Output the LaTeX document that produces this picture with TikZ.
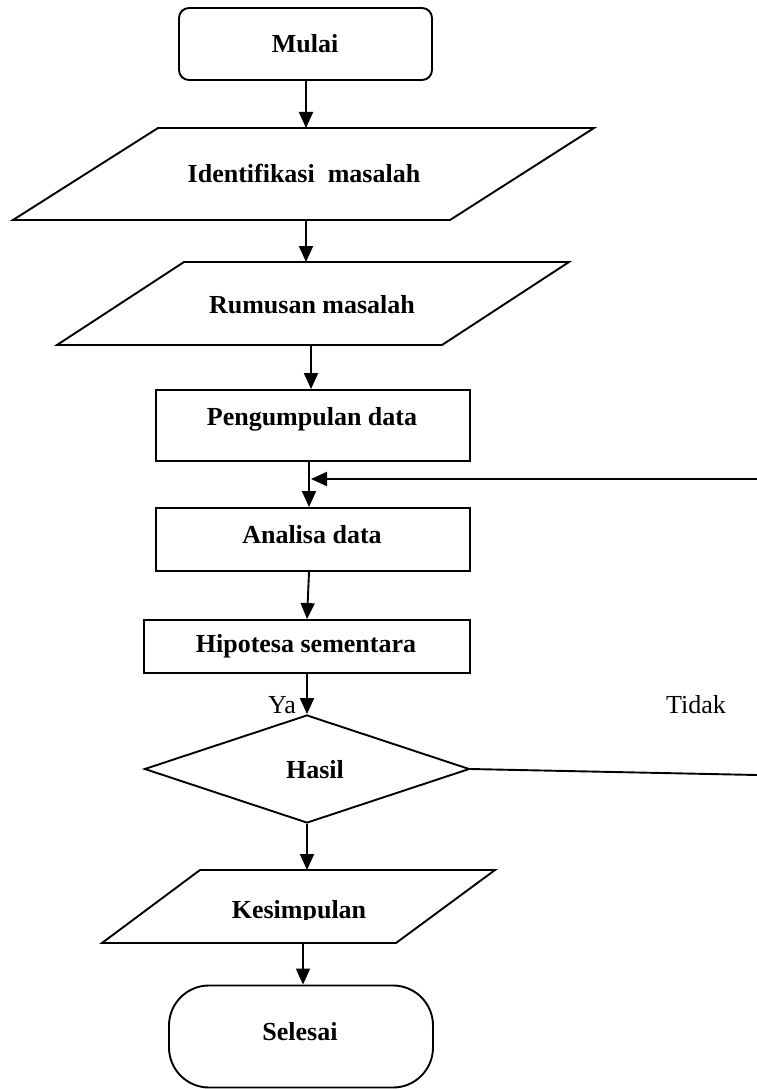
\documentclass[tikz,border=0pt]{standalone}
\usepackage{fontspec}
\setmainfont{Liberation Serif}
\usetikzlibrary{arrows.meta,shapes.geometric}
\begin{document}
\begin{tikzpicture}[x=1pt,y=-1pt, line width=1.9pt,
  shp/.style={draw, line width=1.9pt, inner sep=0pt},
  lbl/.style={font=\bfseries\fontsize{26}{30}\selectfont, anchor=base, inner sep=0pt},
  plainlbl/.style={font=\fontsize{26}{30}\selectfont, anchor=base, inner sep=0pt},
  arr/.style={-{Triangle[length=16pt,width=14pt]}, line width=1.9pt}]
\useasboundingbox (0,0) rectangle (757,1089);
\fill[white] (0,0) rectangle (757,1089);

% terminals and boxes
\node[shp, rounded corners=10pt, minimum width=253pt, minimum height=72pt] (mulai) at (305.5,44) {};
\node[shp, minimum width=314pt, minimum height=71pt] (peng) at (313,425.5) {};
\node[shp, minimum width=314pt, minimum height=63pt] (analisa) at (313,539.5) {};
\node[shp, minimum width=326pt, minimum height=53pt] (hipo) at (307,646.5) {};
\node[shp, diamond, minimum width=325pt, minimum height=108pt] (hasil) at (307,769) {};
\node[shp, rounded corners=40pt, minimum width=264pt, minimum height=102pt] (selesai) at (301,1036.5) {};

% parallelograms
\draw[line join=miter] (158,128) -- (594,128) -- (450,220) -- (13,220) -- cycle;
\coordinate (identN) at (306,128);
\coordinate (identS) at (306,220);
\draw[line join=miter] (184,262) -- (569,262) -- (442,345) -- (57,345) -- cycle;
\coordinate (rumusN) at (306,262);
\coordinate (rumusS) at (311,345);
\draw[line join=miter] (200,870) -- (495,870) -- (396,943) -- (102,943) -- cycle;
\coordinate (kesN) at (307,870);
\coordinate (kesS) at (303,943);

% feedback ends
\coordinate (fbstart) at (757,479);
\coordinate (fbend) at (311,479);
\coordinate (tidakend) at (757,775);
\coordinate (colx) at (309,0);

% labels
\node[lbl] (tmulai) at (305,53) {Mulai};
\node[lbl] (tident) at (304,182) {Identifikasi~ masalah};
\node[lbl] (trumus) at (312,313) {Rumusan masalah};
\node[lbl] (tpeng) at (312,425) {Pengumpulan data};
\node[lbl] (tanalisa) at (312,543) {Analisa data};
\node[lbl] (thipo) at (306,652) {Hipotesa sementara};
\node[lbl] (thasil) at (315,778) {Hasil};
\begin{scope}
\clip (0,850) rectangle (757,919.5);
\node[lbl] (tkes) at (299,918) {Kesimpulan};
\end{scope}
\node[lbl] (tselesai) at (300,1040) {Selesai};
\node[plainlbl] (ya) at (282,713) {Ya};
\node[plainlbl] (tidak) at (696,713) {Tidak};

% connectors
\draw[arr] (mulai.south -| identN) -- (identN);
\draw[arr] (identS) -- (rumusN);
\draw[arr] (rumusS) -- (peng.north -| rumusS);
\draw[arr] (peng.south -| colx) -- (analisa.north -| colx);
\draw[arr] (fbstart) -- (fbend);
\draw[arr] (analisa.south -| colx) -- (hipo.north);
\draw[arr] (hipo.south) -- (hasil.north);
\draw (hasil.east) -- (tidakend);
\draw[arr] (hasil.south) -- (kesN);
\draw[arr] (kesS) -- (selesai.north -| kesS);
\end{tikzpicture}
\end{document}
